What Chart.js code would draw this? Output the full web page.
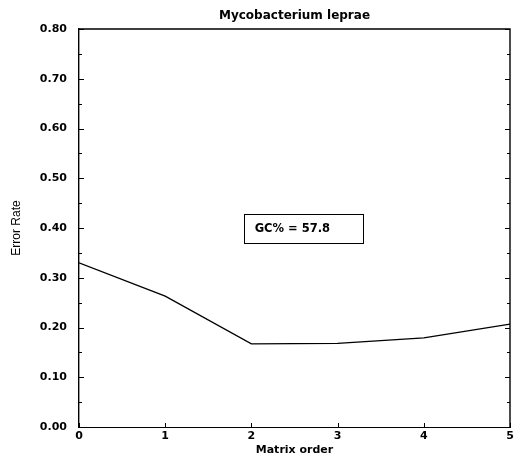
<!DOCTYPE html>
<html>
<head>
<meta charset="utf-8">
<script src="https://cdn.jsdelivr.net/npm/chart.js@4.4.1/dist/chart.umd.min.js"></script>
<style>
  html, body { margin: 0; padding: 0; background: #fff; }
  #wrap { width: 520px; height: 459px; }
</style>
</head>
<body>
<div id="wrap"><canvas id="errChart"></canvas></div>
<script>
// dados do grafico
const matrixOrder = [0, 1, 2, 3, 4, 5];
const errorRate = [0.330, 0.263, 0.167, 0.168, 0.179, 0.207];
const yTickLabels = ['0.00', '0.10', '0.20', '0.30', '0.40', '0.50', '0.60', '0.70', '0.80'];
const gcNote = 'GC% = 57.8';

const tickFont = { family: 'DejaVu Sans', size: 11, weight: 'bold' };

// ticks para dentro, moldura e caixa GC%
const frameAndNote = {
    id: 'frameAndNote',
    afterDatasetsDraw(chart) {
        const { ctx, chartArea: a, scales: { x, y } } = chart;
        ctx.save();
        ctx.strokeStyle = '#000';
        ctx.lineWidth = 1;
        ctx.beginPath();
        y.ticks.forEach((t, i) => {
            const py = Math.round(y.getPixelForTick(i)) + 0.5;
            const len = i % 2 === 0 ? 5 : 3;
            ctx.moveTo(a.left, py); ctx.lineTo(a.left + len, py);
            ctx.moveTo(a.right, py); ctx.lineTo(a.right - len, py);
        });
        x.ticks.forEach((t, i) => {
            const px = Math.round(x.getPixelForTick(i)) + 0.5;
            ctx.moveTo(px, a.bottom); ctx.lineTo(px, a.bottom - 4);
        });
        ctx.stroke();

        // topo e lado direito
        ctx.lineWidth = 1.4;
        ctx.beginPath();
        ctx.moveTo(a.left, a.top);
        ctx.lineTo(a.right, a.top);
        ctx.lineTo(a.right, a.bottom);
        ctx.stroke();

        // caixa GC%
        const bx0 = x.getPixelForValue(1.91), bx1 = x.getPixelForValue(3.29);
        const by0 = y.getPixelForValue(0.428), by1 = y.getPixelForValue(0.370);
        ctx.lineWidth = 1;
        ctx.strokeRect(Math.round(bx0) + 0.5, Math.round(by0) + 0.5, Math.round(bx1 - bx0), Math.round(by1 - by0));
        ctx.fillStyle = '#000';
        ctx.font = 'bold 11.5px "DejaVu Sans"';
        ctx.textAlign = 'left';
        ctx.textBaseline = 'middle';
        ctx.fillText(gcNote, bx0 + 11, (by0 + by1) / 2 + 1);
        ctx.restore();
    }
};

const ctxErr = document.getElementById('errChart').getContext('2d');
new Chart(ctxErr, {
    type: 'line',
    data: {
        datasets: [{
            data: matrixOrder.map((m, i) => ({ x: m, y: errorRate[i] })),
            borderColor: '#000',
            borderWidth: 1.3,
            pointRadius: 0,
            tension: 0,
            fill: false
        }]
    },
    options: {
        responsive: true,
        maintainAspectRatio: false,
        animation: false,
        layout: { padding: { right: 10 } },
        plugins: {
            legend: { display: false },
            tooltip: { enabled: false },
            title: {
                display: true,
                text: 'Mycobacterium leprae',
                fullSize: false,
                color: '#000',
                font: { family: 'DejaVu Sans', size: 12, weight: 'bold' },
                padding: { top: 8.8, bottom: 5.8 }
            }
        },
        scales: {
            x: {
                type: 'linear',
                min: 0,
                max: 5,
                afterFit: (s) => { s.height = 32; },
                ticks: {
                    stepSize: 1,
                    color: '#000',
                    font: tickFont,
                    padding: 3,
                    callback: (v) => String(v)
                },
                grid: { drawOnChartArea: false, drawTicks: false },
                border: { color: '#000', width: 1, dash: [1, 3] },
                title: {
                    display: true,
                    text: 'Matrix order',
                    color: '#000',
                    font: { family: 'DejaVu Sans', size: 11, weight: 'bold' },
                    padding: { top: 0, bottom: 2 }
                }
            },
            y: {
                min: 0,
                max: 0.8,
                afterFit: (s) => { s.width = 79; },
                ticks: {
                    stepSize: 0.05,
                    autoSkip: false,
                    color: '#000',
                    font: tickFont,
                    padding: 12,
                    callback: (v, i) => (i % 2 === 0 ? yTickLabels[i / 2] : '')
                },
                grid: { drawOnChartArea: false, drawTicks: false },
                border: { color: '#000', width: 1.4 },
                title: {
                    display: true,
                    text: 'Error Rate',
                    color: '#000',
                    font: { family: 'Liberation Sans', size: 12 },
                    padding: { top: 9.8, bottom: 0 }
                }
            }
        }
    },
    plugins: [frameAndNote]
});
</script>
</body>
</html>
